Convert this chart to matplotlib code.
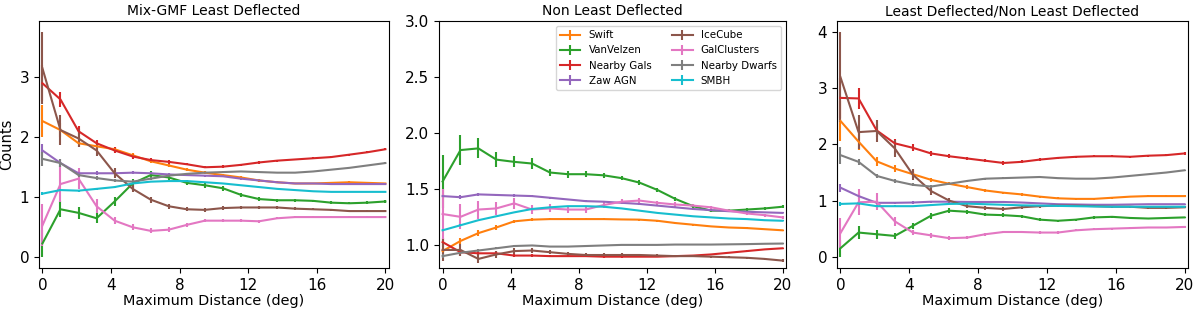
import numpy as np
import matplotlib
matplotlib.use("Agg")
import matplotlib.pyplot as plt

x = np.linspace(0, 20, 20)

names = ["Swift", "VanVelzen", "Nearby Gals", "Zaw AGN", "IceCube",
         "GalClusters", "Nearby Dwarfs", "SMBH"]
colors = ["tab:orange", "tab:green", "tab:red", "tab:purple", "tab:brown",
          "tab:pink", "tab:gray", "tab:cyan"]
titles = ["Mix-GMF Least Deflected", "Non Least Deflected",
          "Least Deflected/Non Least Deflected"]

# ---- Panel 1: Mix-GMF Least Deflected ----
p1_swift = [2.27, 2.12, 1.90, 1.85, 1.80, 1.70, 1.60, 1.53, 1.46, 1.41, 1.37, 1.33, 1.28, 1.25, 1.23, 1.23, 1.24, 1.25, 1.24, 1.23]
p1_vanvelzen = [0.23, 0.80, 0.74, 0.65, 0.93, 1.23, 1.37, 1.33, 1.24, 1.20, 1.15, 1.04, 0.97, 0.95, 0.95, 0.94, 0.91, 0.90, 0.91, 0.93]
p1_nearbygals = [2.90, 2.63, 2.10, 1.90, 1.78, 1.68, 1.62, 1.59, 1.55, 1.50, 1.51, 1.54, 1.58, 1.61, 1.63, 1.65, 1.67, 1.71, 1.75, 1.80]
p1_zaw = [1.78, 1.57, 1.40, 1.40, 1.40, 1.41, 1.40, 1.38, 1.37, 1.36, 1.35, 1.31, 1.28, 1.25, 1.23, 1.23, 1.22, 1.22, 1.22, 1.22]
p1_icecube = [3.15, 2.12, 1.98, 1.78, 1.40, 1.14, 0.96, 0.85, 0.80, 0.79, 0.82, 0.83, 0.83, 0.83, 0.81, 0.80, 0.79, 0.77, 0.77, 0.77]
p1_galclusters = [0.53, 1.22, 1.31, 0.85, 0.61, 0.50, 0.44, 0.46, 0.54, 0.61, 0.61, 0.61, 0.60, 0.65, 0.67, 0.67, 0.67, 0.67, 0.67, 0.67]
p1_dwarfs = [1.64, 1.57, 1.37, 1.32, 1.28, 1.26, 1.31, 1.36, 1.39, 1.41, 1.42, 1.43, 1.42, 1.41, 1.41, 1.43, 1.46, 1.49, 1.53, 1.57]
p1_smbh = [1.06, 1.12, 1.11, 1.14, 1.17, 1.23, 1.26, 1.27, 1.27, 1.25, 1.23, 1.20, 1.17, 1.14, 1.12, 1.10, 1.09, 1.09, 1.09, 1.09]

e1_swift = [0.27, 0.12, 0.07, 0.05, 0.04, 0.04, 0.03, 0.03, 0.02, 0.02, 0.02, 0.02, 0.02, 0.02, 0.015, 0.015, 0.015, 0.015, 0.015, 0.015]
e1_vanvelzen = [0.22, 0.13, 0.10, 0.08, 0.07, 0.08, 0.07, 0.05, 0.04, 0.04, 0.04, 0.03, 0.03, 0.025, 0.025, 0.02, 0.02, 0.02, 0.02, 0.02]
e1_nearbygals = [0.30, 0.13, 0.08, 0.06, 0.05, 0.04, 0.03, 0.03, 0.02, 0.02, 0.02, 0.02, 0.02, 0.015, 0.015, 0.015, 0.015, 0.015, 0.015, 0.015]
e1_zaw = [0.10, 0.07, 0.04, 0.03, 0.03, 0.02, 0.02, 0.02, 0.015, 0.015, 0.015, 0.015, 0.015, 0.01, 0.01, 0.01, 0.01, 0.01, 0.01, 0.01]
e1_icecube = [0.60, 0.25, 0.15, 0.10, 0.08, 0.06, 0.05, 0.04, 0.03, 0.03, 0.03, 0.025, 0.025, 0.02, 0.02, 0.02, 0.02, 0.02, 0.02, 0.02]
e1_galclusters = [0.35, 0.30, 0.18, 0.12, 0.06, 0.05, 0.04, 0.04, 0.03, 0.03, 0.03, 0.025, 0.025, 0.02, 0.02, 0.02, 0.02, 0.02, 0.02, 0.02]
e1_dwarfs = [0.12, 0.07, 0.04, 0.03, 0.025, 0.02, 0.02, 0.015, 0.015, 0.015, 0.01, 0.01, 0.01, 0.01, 0.01, 0.01, 0.01, 0.01, 0.01, 0.01]
e1_smbh = [0.03, 0.02, 0.015, 0.012, 0.01, 0.01, 0.01, 0.008, 0.008, 0.008, 0.006, 0.006, 0.006, 0.006, 0.006, 0.006, 0.006, 0.006, 0.006, 0.006]

# ---- Panel 2: Non Least Deflected ----
p2_swift = [0.95, 1.04, 1.11, 1.16, 1.215, 1.23, 1.235, 1.235, 1.235, 1.235, 1.232, 1.23, 1.22, 1.20, 1.185, 1.17, 1.16, 1.155, 1.145, 1.135]
p2_vanvelzen = [1.57, 1.85, 1.865, 1.765, 1.745, 1.73, 1.65, 1.635, 1.635, 1.625, 1.60, 1.56, 1.495, 1.415, 1.35, 1.31, 1.31, 1.32, 1.33, 1.345]
p2_nearbygals = [1.03, 0.94, 0.93, 0.93, 0.91, 0.91, 0.905, 0.905, 0.905, 0.90, 0.90, 0.90, 0.90, 0.905, 0.91, 0.92, 0.935, 0.95, 0.965, 0.975]
p2_zaw = [1.44, 1.43, 1.455, 1.45, 1.445, 1.44, 1.425, 1.41, 1.395, 1.39, 1.38, 1.37, 1.355, 1.34, 1.325, 1.315, 1.305, 1.30, 1.295, 1.29]
p2_icecube = [0.96, 0.96, 0.88, 0.92, 0.95, 0.955, 0.94, 0.925, 0.915, 0.915, 0.915, 0.915, 0.91, 0.905, 0.905, 0.90, 0.895, 0.89, 0.88, 0.865]
p2_galclusters = [1.28, 1.255, 1.32, 1.33, 1.375, 1.32, 1.33, 1.32, 1.32, 1.36, 1.39, 1.40, 1.38, 1.365, 1.355, 1.34, 1.31, 1.285, 1.27, 1.25]
p2_dwarfs = [0.905, 0.935, 0.955, 0.975, 0.995, 1.00, 0.99, 0.99, 0.995, 1.00, 1.005, 1.005, 1.005, 1.008, 1.008, 1.008, 1.01, 1.012, 1.015, 1.017]
p2_smbh = [1.135, 1.18, 1.225, 1.26, 1.295, 1.325, 1.34, 1.35, 1.35, 1.345, 1.33, 1.31, 1.29, 1.275, 1.26, 1.25, 1.24, 1.235, 1.225, 1.22]

e2_swift = [0.03, 0.03, 0.025, 0.02, 0.015, 0.012, 0.01, 0.01, 0.01, 0.01, 0.008, 0.008, 0.008, 0.008, 0.008, 0.006, 0.006, 0.006, 0.006, 0.006]
e2_vanvelzen = [0.24, 0.13, 0.09, 0.065, 0.05, 0.045, 0.035, 0.03, 0.025, 0.025, 0.02, 0.02, 0.02, 0.015, 0.015, 0.015, 0.015, 0.012, 0.012, 0.012]
e2_nearbygals = [0.04, 0.03, 0.025, 0.02, 0.015, 0.012, 0.01, 0.01, 0.008, 0.008, 0.008, 0.006, 0.006, 0.006, 0.006, 0.006, 0.006, 0.006, 0.006, 0.006]
e2_zaw = [0.02, 0.02, 0.015, 0.012, 0.01, 0.01, 0.008, 0.008, 0.006, 0.006, 0.006, 0.006, 0.006, 0.005, 0.005, 0.005, 0.005, 0.005, 0.005, 0.005]
e2_icecube = [0.10, 0.05, 0.04, 0.03, 0.03, 0.025, 0.02, 0.02, 0.015, 0.015, 0.015, 0.012, 0.012, 0.01, 0.01, 0.01, 0.01, 0.01, 0.01, 0.01]
e2_galclusters = [0.22, 0.11, 0.08, 0.06, 0.05, 0.04, 0.035, 0.03, 0.03, 0.025, 0.025, 0.02, 0.02, 0.02, 0.015, 0.015, 0.015, 0.015, 0.012, 0.012]
e2_dwarfs = [0.02, 0.015, 0.012, 0.01, 0.01, 0.008, 0.008, 0.006, 0.006, 0.006, 0.005, 0.005, 0.005, 0.005, 0.005, 0.005, 0.005, 0.005, 0.005, 0.005]
e2_smbh = [0.01, 0.008, 0.006, 0.006, 0.005, 0.005, 0.005, 0.004, 0.004, 0.004, 0.004, 0.004, 0.004, 0.004, 0.004, 0.004, 0.004, 0.004, 0.004, 0.004]

# ---- Panel 3: Least Deflected / Non Least Deflected ----
p3_swift = [2.42, 2.05, 1.70, 1.57, 1.47, 1.37, 1.30, 1.24, 1.18, 1.14, 1.11, 1.07, 1.04, 1.03, 1.03, 1.05, 1.07, 1.08, 1.08, 1.08]
p3_vanvelzen = [0.15, 0.43, 0.40, 0.37, 0.55, 0.73, 0.82, 0.80, 0.75, 0.74, 0.72, 0.66, 0.64, 0.66, 0.70, 0.71, 0.69, 0.68, 0.69, 0.70]
p3_nearbygals = [2.83, 2.82, 2.25, 2.02, 1.94, 1.84, 1.79, 1.75, 1.71, 1.67, 1.69, 1.73, 1.76, 1.78, 1.79, 1.79, 1.78, 1.80, 1.81, 1.84]
p3_zaw = [1.23, 1.08, 0.96, 0.96, 0.965, 0.98, 0.98, 0.975, 0.975, 0.975, 0.965, 0.95, 0.935, 0.93, 0.925, 0.925, 0.93, 0.935, 0.935, 0.935]
p3_icecube = [3.20, 2.22, 2.24, 1.93, 1.46, 1.17, 1.00, 0.90, 0.87, 0.85, 0.88, 0.90, 0.91, 0.91, 0.90, 0.89, 0.89, 0.87, 0.87, 0.88]
p3_galclusters = [0.42, 0.97, 0.98, 0.63, 0.43, 0.38, 0.33, 0.34, 0.40, 0.44, 0.44, 0.43, 0.43, 0.47, 0.49, 0.50, 0.51, 0.52, 0.52, 0.53]
p3_dwarfs = [1.81, 1.69, 1.44, 1.35, 1.28, 1.25, 1.30, 1.35, 1.39, 1.40, 1.41, 1.42, 1.40, 1.39, 1.39, 1.41, 1.44, 1.47, 1.50, 1.54]
p3_smbh = [0.94, 0.95, 0.90, 0.90, 0.90, 0.92, 0.94, 0.945, 0.935, 0.925, 0.915, 0.91, 0.905, 0.90, 0.895, 0.89, 0.89, 0.89, 0.89, 0.89]

e3_swift = [0.35, 0.15, 0.08, 0.06, 0.05, 0.04, 0.03, 0.03, 0.025, 0.02, 0.02, 0.02, 0.02, 0.015, 0.015, 0.015, 0.015, 0.015, 0.015, 0.015]
e3_vanvelzen = [0.15, 0.12, 0.08, 0.06, 0.05, 0.05, 0.04, 0.035, 0.03, 0.03, 0.025, 0.025, 0.02, 0.02, 0.02, 0.02, 0.015, 0.015, 0.015, 0.015]
e3_nearbygals = [0.35, 0.18, 0.12, 0.08, 0.06, 0.05, 0.04, 0.035, 0.03, 0.03, 0.025, 0.025, 0.02, 0.02, 0.02, 0.02, 0.02, 0.02, 0.02, 0.02]
e3_zaw = [0.07, 0.05, 0.03, 0.02, 0.02, 0.015, 0.015, 0.012, 0.012, 0.01, 0.01, 0.01, 0.01, 0.01, 0.01, 0.01, 0.01, 0.01, 0.01, 0.01]
e3_icecube = [0.80, 0.30, 0.20, 0.15, 0.10, 0.07, 0.05, 0.04, 0.035, 0.03, 0.03, 0.025, 0.025, 0.02, 0.02, 0.02, 0.02, 0.02, 0.02, 0.02]
e3_galclusters = [0.27, 0.23, 0.15, 0.08, 0.05, 0.04, 0.035, 0.03, 0.03, 0.025, 0.025, 0.02, 0.02, 0.02, 0.02, 0.02, 0.015, 0.015, 0.015, 0.015]
e3_dwarfs = [0.15, 0.05, 0.04, 0.03, 0.025, 0.02, 0.02, 0.015, 0.015, 0.015, 0.012, 0.012, 0.01, 0.01, 0.01, 0.01, 0.01, 0.01, 0.01, 0.01]
e3_smbh = [0.04, 0.03, 0.02, 0.015, 0.012, 0.01, 0.01, 0.008, 0.008, 0.008, 0.006, 0.006, 0.006, 0.006, 0.006, 0.006, 0.006, 0.006, 0.006, 0.006]

panels = [
    ([p1_swift, p1_vanvelzen, p1_nearbygals, p1_zaw, p1_icecube, p1_galclusters, p1_dwarfs, p1_smbh],
     [e1_swift, e1_vanvelzen, e1_nearbygals, e1_zaw, e1_icecube, e1_galclusters, e1_dwarfs, e1_smbh]),
    ([p2_swift, p2_vanvelzen, p2_nearbygals, p2_zaw, p2_icecube, p2_galclusters, p2_dwarfs, p2_smbh],
     [e2_swift, e2_vanvelzen, e2_nearbygals, e2_zaw, e2_icecube, e2_galclusters, e2_dwarfs, e2_smbh]),
    ([p3_swift, p3_vanvelzen, p3_nearbygals, p3_zaw, p3_icecube, p3_galclusters, p3_dwarfs, p3_smbh],
     [e3_swift, e3_vanvelzen, e3_nearbygals, e3_zaw, e3_icecube, e3_galclusters, e3_dwarfs, e3_smbh]),
]

fig = plt.figure(figsize=(12, 3.09), dpi=100)
lefts = [0.0325, 0.366, 0.6975]
rights = [0.324, 0.655, 0.990]
bottom, top = 0.133, 0.932

for i, (vals, errs) in enumerate(panels):
    ax = fig.add_axes([lefts[i], bottom, rights[i] - lefts[i], top - bottom])
    for name, c, v, e in zip(names, colors, vals, errs):
        ax.errorbar(x, v, yerr=e, color=c, label=name, lw=1.5)
    ax.set_xlim(-0.2, 20.2)
    ax.set_xticks([0, 4, 8, 12, 16, 20])
    ax.set_title(titles[i], fontsize=10, pad=4)
    ax.set_xlabel("Maximum Distance (deg)", fontsize=10.4, labelpad=1)
    ax.tick_params(labelsize=11)
    if i == 0:
        ax.set_ylabel("Counts", fontsize=10.5)
        ax.set_yticks([0, 1, 2, 3])
    if i == 1:
        ax.set_ylim(0.8, 3.0)
        ax.legend(ncol=2, fontsize=7.4, loc="upper right")
    if i == 2:
        ax.set_yticks([0, 1, 2, 3, 4])

fig.savefig("out.png", dpi=100)
